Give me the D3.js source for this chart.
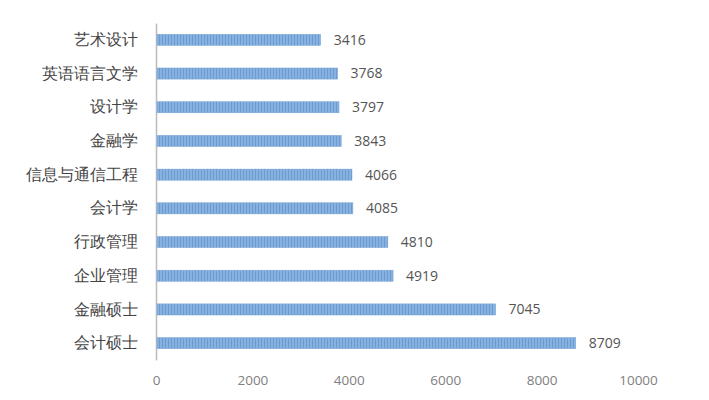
<!DOCTYPE html>
<html>
<head>
<meta charset="utf-8">
<script src="https://cdn.jsdelivr.net/npm/d3@7"></script>
<style>
  body { margin: 0; background: #fff; }
  svg { font-family: "Noto Sans CJK SC", "Microsoft YaHei", sans-serif; }
</style>
</head>
<body>
<svg id="chart"></svg>
<script>
// majors, top to bottom
const majors = ['艺术设计', '英语语言文学', '设计学', '金融学', '信息与通信工程', '会计学', '行政管理', '企业管理', '金融硕士', '会计硕士'];
const counts = [3416, 3768, 3797, 3843, 4066, 4085, 4810, 4919, 7045, 8709];
const xTicks = [0, 2000, 4000, 6000, 8000, 10000];

const data = majors.map((m, i) => ({ name: m, value: counts[i] }));

const W = 709, H = 400;
const margin = { top: 23, right: 71, bottom: 40, left: 156 };
const width = W - margin.left - margin.right;
const height = H - margin.top - margin.bottom;

const root = d3.select('#chart').attr('width', W).attr('height', H);

// striped fill like the original image
const defs = root.append('defs');
const pat = defs.append('pattern')
  .attr('id', 'stripes')
  .attr('patternUnits', 'userSpaceOnUse')
  .attr('width', 3).attr('height', 10);
pat.append('rect').attr('width', 3).attr('height', 10).attr('fill', '#86b1e0');
pat.append('rect').attr('width', 1).attr('height', 10).attr('fill', '#6c9bd0');

const svg = root.append('g')
  .attr('transform', `translate(${margin.left},${margin.top})`);

const x = d3.scaleLinear().domain([0, 10000]).range([0, width]);
const y = d3.scaleBand().domain(majors).range([0, height])
  .paddingInner(0.67).paddingOuter(0.335);

// x axis: labels only
const xAxis = svg.append('g')
  .attr('transform', `translate(0,${height})`)
  .call(d3.axisBottom(x).tickValues(xTicks).tickFormat(d3.format('d')).tickSize(0).tickPadding(15));
xAxis.select('.domain').remove();
xAxis.selectAll('text')
  .attr('fill', '#808080')
  .style('font-family', '"Open Sans", "DejaVu Sans", sans-serif')
  .style('font-size', '13.5px');

// y axis
const yAxis = svg.append('g')
  .call(d3.axisLeft(y).tickSize(0).tickPadding(18));
yAxis.select('.domain').attr('stroke', '#bbb').attr('stroke-width', 1.5);
yAxis.selectAll('text')
  .attr('fill', '#444')
  .style('font-size', '16px');

// bars
svg.selectAll('.bar')
  .data(data)
  .enter().append('rect')
  .attr('class', 'bar')
  .attr('x', 1)
  .attr('y', d => y(d.name))
  .attr('width', d => x(d.value) - 1)
  .attr('height', y.bandwidth())
  .attr('fill', 'url(#stripes)')
  .attr('stroke', '#7aa3d3')
  .attr('stroke-width', 0.5);

// value labels
svg.selectAll('.val')
  .data(data)
  .enter().append('text')
  .attr('class', 'val')
  .attr('x', d => x(d.value) + 13)
  .attr('y', d => y(d.name) + y.bandwidth() / 2)
  .attr('dy', '0.35em')
  .attr('fill', '#555')
  .style('font-family', '"Open Sans", "DejaVu Sans", sans-serif')
  .style('font-size', '14px')
  .text(d => d.value);
</script>
</body>
</html>
